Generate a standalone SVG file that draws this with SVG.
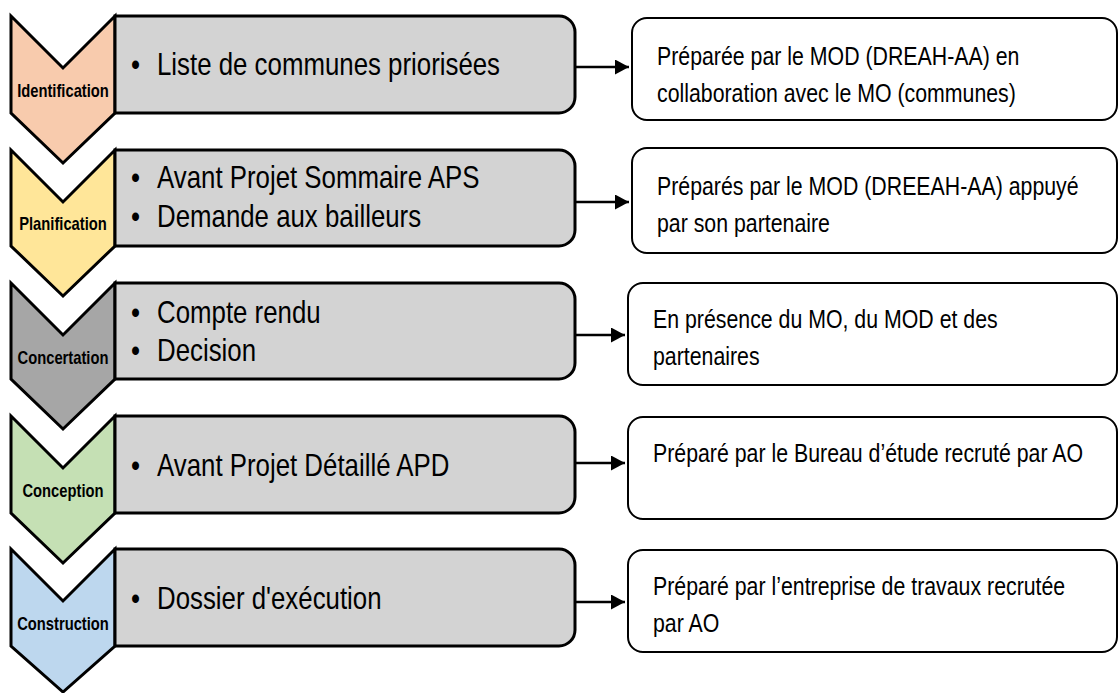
<svg xmlns="http://www.w3.org/2000/svg" width="1120" height="693" viewBox="0 0 1120 693">
<defs>
<style>
.chev{stroke:#000;stroke-width:3;stroke-linejoin:miter}
.gbox{fill:#D3D3D3;stroke:#000;stroke-width:3}
.rbox{fill:#fff;stroke:#000;stroke-width:2}
.lbl{font-family:"Liberation Sans",Arial,sans-serif;font-weight:bold;font-size:18px;fill:#000;text-anchor:middle}
.gt{font-family:"Liberation Sans",Arial,sans-serif;font-size:31.5px;fill:#000}
.rt{font-family:"Liberation Sans",Arial,sans-serif;font-size:26px;fill:#000}
.conn{stroke:#000;stroke-width:2.5;fill:none}
</style>
<marker id="ah" markerUnits="userSpaceOnUse" markerWidth="15" markerHeight="16" refX="14" refY="7.5" orient="auto">
<path d="M0,0 L14,7.5 L0,15 Z" fill="#000"/>
</marker>
</defs>
<rect width="1120" height="693" fill="#fff"/>

<g id="identification">
<path class="chev" fill="#F8CBAD" d="M11,16 L63,68 L115,16 L115,113 L63,163 L11,113 Z"/>
<text class="lbl" transform="scale(0.82,1)" x="76.83" y="97">Identification</text>
<path class="gbox" d="M115,16 H559 A16,16 0 0 1 575,32 V97 A16,16 0 0 1 559,113 H115 Z"/>
<text class="gt" transform="scale(0.82,1)" x="159.76" y="75">•</text>
<text class="gt" transform="scale(0.82,1)" x="191.46" y="75">Liste de communes priorisées</text>
</g>

<g id="planification">
<path class="chev" fill="#FFE699" d="M11,150 L63,202 L115,150 L115,246 L63,296 L11,246 Z"/>
<text class="lbl" transform="scale(0.82,1)" x="76.83" y="230">Planification</text>
<path class="gbox" d="M115,150 H559 A16,16 0 0 1 575,166 V230 A16,16 0 0 1 559,246 H115 Z"/>
<text class="gt" transform="scale(0.82,1)" x="159.76" y="188">•</text>
<text class="gt" transform="scale(0.82,1)" x="191.46" y="188">Avant Projet Sommaire APS</text>
<text class="gt" transform="scale(0.82,1)" x="159.76" y="227">•</text>
<text class="gt" transform="scale(0.82,1)" x="191.46" y="227">Demande aux bailleurs</text>
</g>

<g id="concertation">
<path class="chev" fill="#A6A6A6" d="M11,283 L63,335 L115,283 L115,379 L63,429 L11,379 Z"/>
<text class="lbl" transform="scale(0.82,1)" x="76.83" y="364">Concertation</text>
<path class="gbox" d="M115,283 H559 A16,16 0 0 1 575,299 V363 A16,16 0 0 1 559,379 H115 Z"/>
<text class="gt" transform="scale(0.82,1)" x="159.76" y="323">•</text>
<text class="gt" transform="scale(0.82,1)" x="191.46" y="323">Compte rendu</text>
<text class="gt" transform="scale(0.82,1)" x="159.76" y="361">•</text>
<text class="gt" transform="scale(0.82,1)" x="191.46" y="361">Decision</text>
</g>

<g id="conception">
<path class="chev" fill="#C5E0B4" d="M11,416 L63,468 L115,416 L115,513 L63,563 L11,513 Z"/>
<text class="lbl" transform="scale(0.82,1)" x="76.83" y="497">Conception</text>
<path class="gbox" d="M115,416 H559 A16,16 0 0 1 575,432 V497 A16,16 0 0 1 559,513 H115 Z"/>
<text class="gt" transform="scale(0.82,1)" x="159.76" y="476">•</text>
<text class="gt" transform="scale(0.82,1)" x="191.46" y="476">Avant Projet Détaillé APD</text>
</g>

<g id="construction">
<path class="chev" fill="#BDD7EE" d="M11,549 L63,601 L115,549 L115,646 L63,692 L11,646 Z"/>
<text class="lbl" transform="scale(0.82,1)" x="76.83" y="630">Construction</text>
<path class="gbox" d="M115,549 H559 A16,16 0 0 1 575,565 V630 A16,16 0 0 1 559,646 H115 Z"/>
<text class="gt" transform="scale(0.82,1)" x="159.76" y="609">•</text>
<text class="gt" transform="scale(0.82,1)" x="191.46" y="609">Dossier d'exécution</text>
</g>

<g id="note1">
<rect class="rbox" x="632" y="18" width="485" height="102" rx="15"/>
<text class="rt" transform="scale(0.82,1)" x="801.22" y="65">Préparée par le MOD (DREAH-AA) en</text>
<text class="rt" transform="scale(0.82,1)" x="801.22" y="102">collaboration avec le MO (communes)</text>
</g>
<g id="note2">
<rect class="rbox" x="632" y="148" width="485" height="105" rx="15"/>
<text class="rt" transform="scale(0.82,1)" x="801.22" y="195">Préparés par le MOD (DREEAH-AA) appuyé</text>
<text class="rt" transform="scale(0.82,1)" x="801.22" y="232">par son partenaire</text>
</g>
<g id="note3">
<rect class="rbox" x="628" y="283" width="489" height="102" rx="15"/>
<text class="rt" transform="scale(0.82,1)" x="796.34" y="328">En présence du MO, du MOD et des</text>
<text class="rt" transform="scale(0.82,1)" x="796.34" y="365">partenaires</text>
</g>
<g id="note4">
<rect class="rbox" x="628" y="417" width="489" height="102" rx="15"/>
<text class="rt" transform="scale(0.82,1)" x="796.34" y="462">Préparé par le Bureau d’étude recruté par AO</text>
</g>
<g id="note5">
<rect class="rbox" x="628" y="550" width="489" height="102" rx="15"/>
<text class="rt" transform="scale(0.82,1)" x="796.34" y="595">Préparé par l’entreprise de travaux recrutée</text>
<text class="rt" transform="scale(0.82,1)" x="796.34" y="632">par AO</text>
</g>

<g id="connectors">
<line class="conn" x1="576" y1="67" x2="629" y2="67" marker-end="url(#ah)"/>
<line class="conn" x1="576" y1="202" x2="629" y2="202" marker-end="url(#ah)"/>
<line class="conn" x1="576" y1="335" x2="625" y2="335" marker-end="url(#ah)"/>
<line class="conn" x1="576" y1="463" x2="625" y2="463" marker-end="url(#ah)"/>
<line class="conn" x1="576" y1="602" x2="625" y2="602" marker-end="url(#ah)"/>
</g>
</svg>
